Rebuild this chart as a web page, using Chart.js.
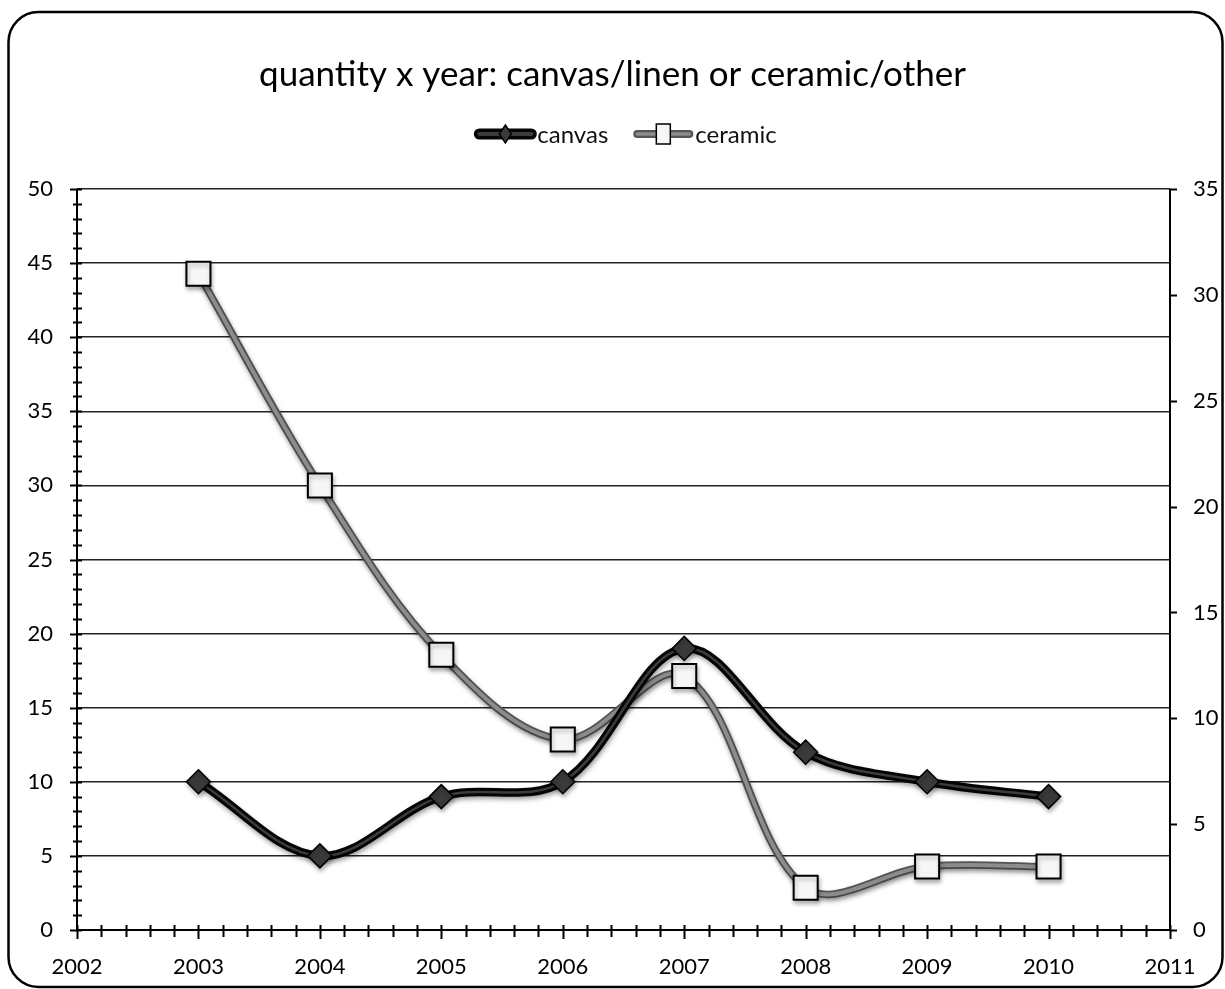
<!DOCTYPE html>
<html>
<head>
<meta charset="utf-8">
<title>quantity x year</title>
<script src="https://cdn.jsdelivr.net/npm/chart.js@4.4.1/dist/chart.umd.min.js"></script>
<style>
  html, body { margin: 0; padding: 0; background: #ffffff; }
  #wrap { width: 1225px; height: 989px; }
</style>
</head>
<body>
<div id="wrap"><canvas id="chart" width="1225" height="989"></canvas></div>
<script>
// ---- data ----
const years = [2003, 2004, 2005, 2006, 2007, 2008, 2009, 2010];
const canvasQty = [10, 5, 9, 10, 19, 12, 10, 9];      // left axis
const ceramicQty = [31, 21, 13, 9, 12, 2, 3, 3];      // right axis
const seriesNames = ['canvas', 'ceramic'];
const chartTitle = 'quantity x year: canvas/linen or ceramic/other';
const xRange = [2002, 2011];
const leftRange = [0, 50];
const rightRange = [0, 35];
const majorStep = 5;

// ---- style ----
const FONT = 'Lato, "Open Sans", sans-serif';
const toPoints = (ys) => years.map((x, i) => ({ x: x, y: ys[i] }));

// white page with a rounded frame
const framePlugin = {
  id: 'frame',
  beforeDraw(chart) {
    const ctx = chart.ctx;
    ctx.save();
    ctx.fillStyle = '#ffffff';
    ctx.fillRect(0, 0, chart.width, chart.height);
    ctx.beginPath();
    ctx.roundRect(8.5, 12, 1214, 975, 30);
    ctx.lineWidth = 2.5;
    ctx.strokeStyle = '#000000';
    ctx.stroke();
    ctx.restore();
  }
};

// axis lines with major / minor tick marks
const axisPlugin = {
  id: 'axisMarks',
  beforeDatasetsDraw(chart) {
    const ctx = chart.ctx;
    const a = chart.chartArea;
    const xs = chart.scales.x, yl = chart.scales.y, yr = chart.scales.y2;
    ctx.save();
    ctx.strokeStyle = '#000000';
    ctx.lineWidth = 2;
    ctx.beginPath();
    // left axis
    ctx.moveTo(a.left, a.top); ctx.lineTo(a.left, a.bottom);
    for (let v = yl.min; v <= yl.max; v += 1) {
      const y = Math.round(yl.getPixelForValue(v)) + 0.5;
      const major = v % majorStep === 0;
      ctx.moveTo(a.left - (major ? 7 : 4), y);
      ctx.lineTo(a.left + 5, y);
    }
    // right axis
    ctx.moveTo(a.right, a.top); ctx.lineTo(a.right, a.bottom);
    for (let v = yr.min; v <= yr.max; v += majorStep) {
      const y = Math.round(yr.getPixelForValue(v)) + 0.5;
      ctx.moveTo(a.right, y);
      ctx.lineTo(a.right + 7, y);
    }
    // bottom axis, five minor divisions per year
    ctx.moveTo(a.left, a.bottom); ctx.lineTo(a.right, a.bottom);
    for (let k = 0; k <= (xs.max - xs.min) * 5; k++) {
      const x = Math.round(xs.getPixelForValue(xs.min + k / 5)) + 0.5;
      const major = k % 5 === 0;
      ctx.moveTo(x, a.bottom - 5);
      ctx.lineTo(x, a.bottom + (major ? 9 : 7));
    }
    ctx.stroke();
    ctx.restore();
  }
};

// dark casing stroked under each series line, plus a soft drop shadow
const casingPlugin = {
  id: 'casing',
  beforeDatasetDraw(chart, args) {
    const meta = args.meta;
    const ds = chart.data.datasets[args.index];
    const ctx = chart.ctx;
    meta.dataset.updateControlPoints(chart.chartArea, meta.iScale.axis);
    ctx.save();
    ctx.shadowColor = 'rgba(0,0,0,0.30)';
    ctx.shadowBlur = 5;
    ctx.shadowOffsetX = 1;
    ctx.shadowOffsetY = 3;
    ctx.beginPath();
    meta.dataset.path(ctx);
    ctx.lineJoin = 'round';
    ctx.lineCap = 'round';
    ctx.lineWidth = ds.casingWidth;
    ctx.strokeStyle = ds.casingColor;
    ctx.stroke();
    ctx.restore();
    ctx.shadowColor = 'rgba(0,0,0,0.28)';
    ctx.shadowBlur = 4;
    ctx.shadowOffsetX = 1;
    ctx.shadowOffsetY = 3;
  },
  afterDatasetDraw(chart) {
    const ctx = chart.ctx;
    ctx.shadowColor = 'rgba(0,0,0,0)';
    ctx.shadowBlur = 0;
    ctx.shadowOffsetX = 0;
    ctx.shadowOffsetY = 0;
  }
};

// legend row: line sample with its marker, then the series name
const lineLegendPlugin = {
  id: 'lineLegend',
  afterDraw(chart, args, opts) {
    const ctx = chart.ctx;
    ctx.save();
    ctx.font = opts.fontSize + 'px ' + FONT;
    const items = chart.data.datasets.map(ds => ({ ds: ds, w: ctx.measureText(ds.label).width }));
    const total = items.reduce((s, it) => s + opts.sampleWidth + opts.textGap + it.w, 0)
                + opts.itemGap * (items.length - 1);
    let x = opts.centerX - total / 2;
    const y = opts.y;
    items.forEach(({ ds, w }) => {
      const cx = x + opts.sampleWidth / 2;
      ctx.lineCap = 'round';
      ctx.beginPath();
      ctx.moveTo(x + 4, y);
      ctx.lineTo(x + opts.sampleWidth - 4, y);
      ctx.lineWidth = ds.legendCasing;
      ctx.strokeStyle = ds.casingColor;
      ctx.stroke();
      ctx.lineWidth = ds.legendCore;
      ctx.strokeStyle = ds.borderColor;
      ctx.stroke();
      ctx.beginPath();
      if (ds.pointStyle === 'rectRot') {
        ctx.moveTo(cx, y - 9); ctx.lineTo(cx + 6, y); ctx.lineTo(cx, y + 9); ctx.lineTo(cx - 6, y);
        ctx.closePath();
      } else {
        ctx.rect(cx - 7, y - 10, 14, 20);
      }
      ctx.fillStyle = ds.pointBackgroundColor;
      ctx.fill();
      ctx.lineWidth = 1.5;
      ctx.strokeStyle = ds.pointBorderColor;
      ctx.stroke();
      ctx.fillStyle = '#111111';
      ctx.textAlign = 'left';
      ctx.textBaseline = 'middle';
      ctx.fillText(ds.label, x + opts.sampleWidth + opts.textGap, y + 1);
      x += opts.sampleWidth + opts.textGap + w + opts.itemGap;
    });
    ctx.restore();
  }
};

const tickFont = { family: FONT, size: 22 };

new Chart(document.getElementById('chart'), {
  type: 'line',
  data: {
    datasets: [
      {
        label: seriesNames[0],
        data: toPoints(canvasQty),
        yAxisID: 'y',
        borderColor: '#3c3c3c',
        borderWidth: 2.5,
        casingColor: '#050505',
        casingWidth: 8.5,
        legendCasing: 11,
        legendCore: 4,
        tension: 0.35,
        pointStyle: 'rectRot',
        pointRadius: 12,
        pointBackgroundColor: '#3a3a3a',
        pointBorderColor: '#000000',
        pointBorderWidth: 1.5
      },
      {
        label: seriesNames[1],
        data: toPoints(ceramicQty),
        yAxisID: 'y2',
        borderColor: '#8c8c8c',
        borderWidth: 4,
        casingColor: '#555555',
        casingWidth: 7.5,
        legendCasing: 8,
        legendCore: 3.5,
        tension: 0.35,
        pointStyle: 'rect',
        pointRadius: 17,
        pointBackgroundColor: '#f6f6f6',
        pointBorderColor: '#000000',
        pointBorderWidth: 2
      }
    ]
  },
  options: {
    responsive: false,
    animation: false,
    events: [],
    layout: { padding: { left: 0, right: 0, top: 0, bottom: 0 } },
    plugins: {
      legend: { display: false },
      tooltip: { enabled: false },
      title: {
        display: true,
        text: chartTitle,
        color: '#000000',
        font: { family: FONT, size: 35, weight: 'normal' },
        padding: { top: 54, bottom: 93 }
      },
      lineLegend: { fontSize: 24, y: 134, centerX: 626, sampleWidth: 60, textGap: 2, itemGap: 25 }
    },
    scales: {
      x: {
        type: 'linear',
        min: xRange[0],
        max: xRange[1],
        ticks: { stepSize: 1, color: '#000000', font: tickFont, padding: 24, callback: v => String(v) },
        grid: { display: false, drawTicks: false },
        border: { display: false },
        afterFit(s) { s.height = 59; }
      },
      y: {
        type: 'linear',
        position: 'left',
        min: leftRange[0],
        max: leftRange[1],
        ticks: { stepSize: majorStep, color: '#000000', font: tickFont, padding: 24 },
        grid: { color: '#222222', lineWidth: 1.6, drawTicks: false },
        border: { display: false },
        afterFit(s) { s.width = 77; }
      },
      y2: {
        type: 'linear',
        position: 'right',
        min: rightRange[0],
        max: rightRange[1],
        ticks: { stepSize: majorStep, color: '#000000', font: tickFont, padding: 23 },
        grid: { display: false, drawTicks: false },
        border: { display: false },
        afterFit(s) { s.width = 55; }
      }
    }
  },
  plugins: [framePlugin, axisPlugin, casingPlugin, lineLegendPlugin]
});
</script>
</body>
</html>
